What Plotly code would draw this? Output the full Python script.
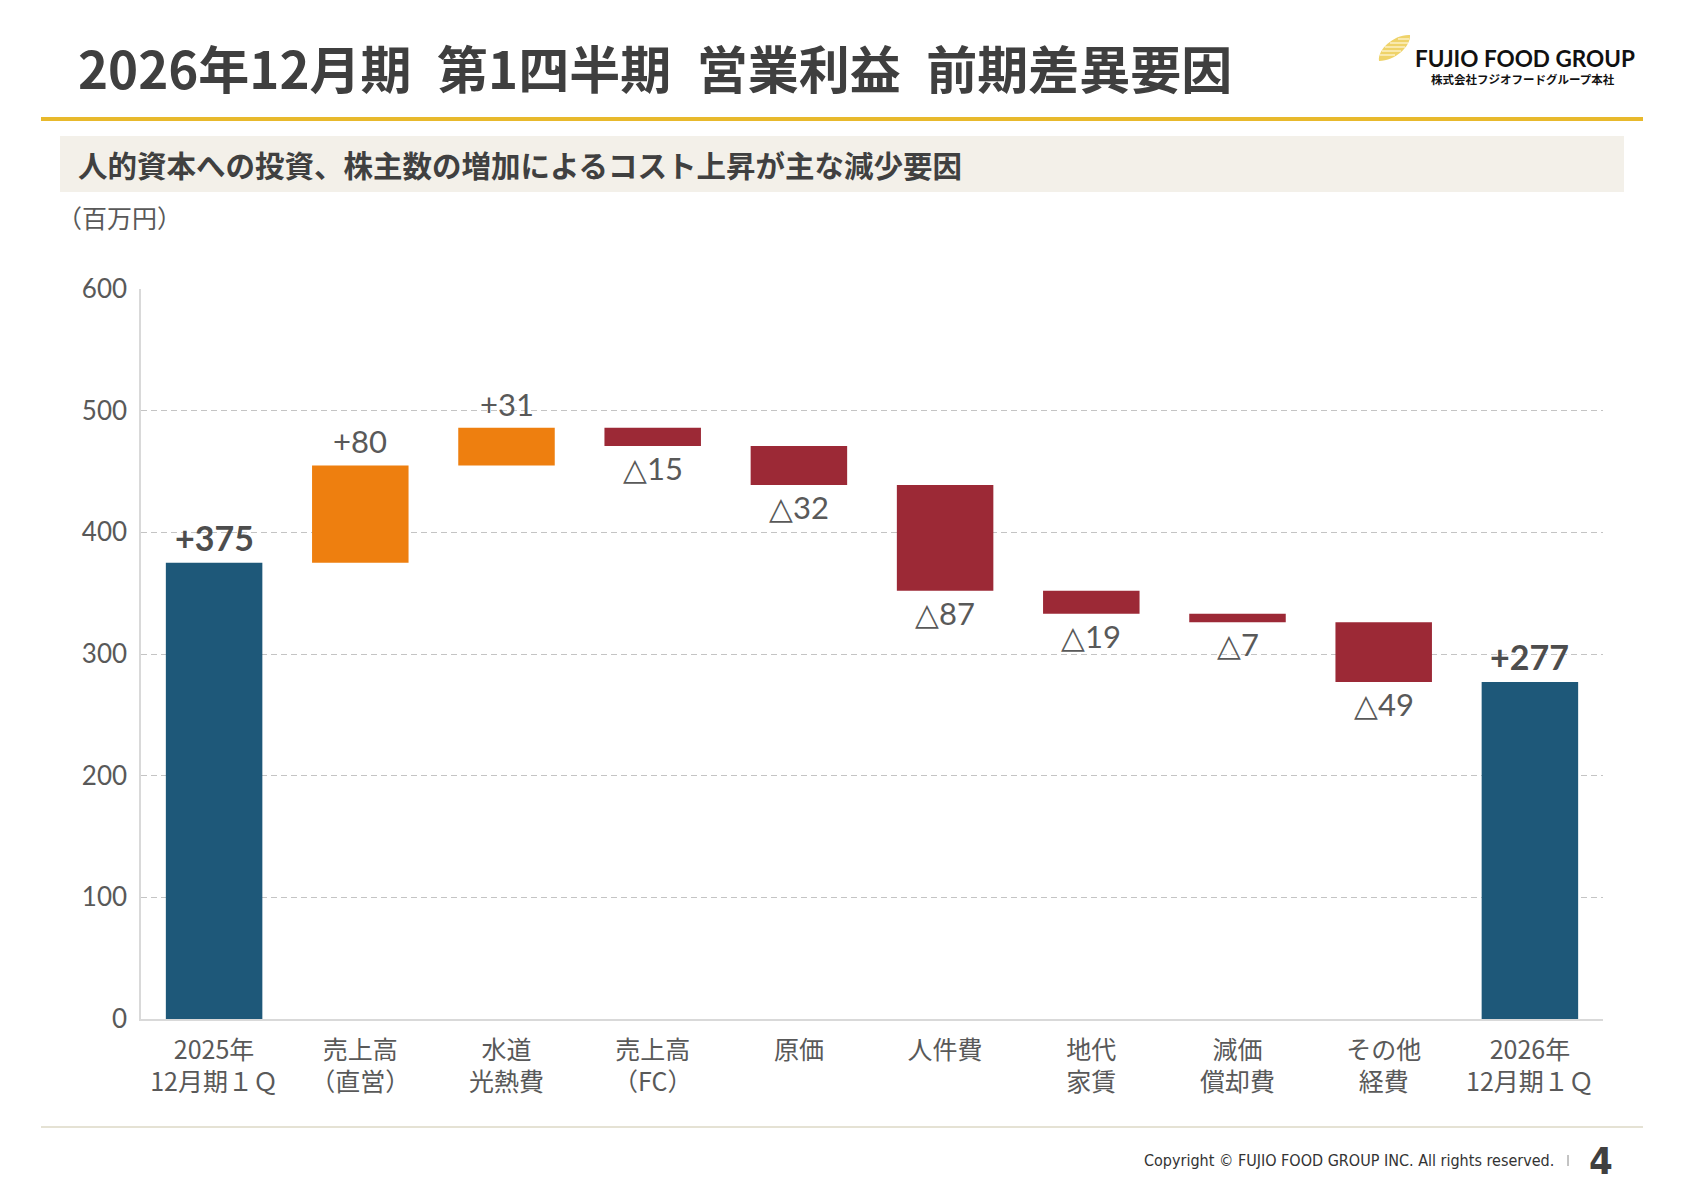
import plotly.graph_objects as go

# ---------------- data ----------------
categories = ["2025年<br>12月期１Ｑ", "売上高<br>（直営）", "水道<br>光熱費", "売上高<br>（FC）", "原価",
              "人件費", "地代<br>家賃", "減価<br>償却費", "その他<br>経費", "2026年<br>12月期１Ｑ"]
start_value = 375
changes = [80, 31, -15, -32, -87, -19, -7, -49]
end_value = 277
y_ticks = [0, 100, 200, 300, 400, 500, 600]

title_text = "2026年12月期\u2002第1四半期\u2002営業利益\u2002前期差異要因"
subtitle_text = "人的資本への投資、株主数の増加によるコスト上昇が主な減少要因"
unit_text = "（百万円）"
copyright_text = "Copyright © FUJIO FOOD GROUP INC. All rights reserved."
page_no = "4"

# ---------------- styles ----------------
BLUE = "#1E5879"
ORANGE = "#EE7F0F"
RED = "#9C2936"
TXT = "#595959"
W, H = 1684, 1190
MT, MB = 20, 20


def X(px):
    return px / W


def Y(py):
    return (H - MB - py) / (H - MT - MB)


# build bars
bases, heights, colors, labels, label_y, anchors, bold = [], [], [], [], [], [], []
bases.append(0); heights.append(start_value); colors.append(BLUE)
labels.append(f"+{start_value}"); label_y.append(start_value); anchors.append("bottom"); bold.append(True)
run = start_value
for c in changes:
    bases.append(run); heights.append(c)
    if c >= 0:
        colors.append(ORANGE); labels.append(f"+{c}"); label_y.append(run + c); anchors.append("bottom")
    else:
        colors.append(RED); labels.append(f"△{-c}"); label_y.append(run + c); anchors.append("top")
    bold.append(False)
    run += c
bases.append(0); heights.append(end_value); colors.append(BLUE)
labels.append(f"+{end_value}"); label_y.append(end_value); anchors.append("bottom"); bold.append(True)

fig = go.Figure()
fig.add_trace(go.Bar(x=categories, y=heights, base=bases, marker=dict(color=colors, line=dict(width=0)),
                     width=0.66, hoverinfo="skip", showlegend=False))

annotations = []
for cat, lab, ly, anc, b in zip(categories, labels, label_y, anchors, bold):
    annotations.append(dict(
        x=cat, y=ly, xref="x", yref="y", text=lab, showarrow=False,
        xanchor="center", yanchor=anc,
        yshift=(3 if anc == "bottom" else -1),
        font=dict(family="Lato, Noto Sans, sans-serif", size=34 if b else 31,
                  color="#4D4D4D" if b else TXT, weight=700 if b else 400)))

# header / footer texts
annotations += [
    dict(x=X(76), y=Y(67), xref="paper", yref="paper", text=title_text, showarrow=False,
         xanchor="left", yanchor="middle",
         font=dict(family="Noto Sans CJK JP", size=51, color="#3F3F3F", weight=700)),
    dict(x=X(76), y=Y(164), xref="paper", yref="paper", text=subtitle_text, showarrow=False,
         xanchor="left", yanchor="middle",
         font=dict(family="Noto Sans CJK JP", size=29.5, color="#404040", weight=700)),
    dict(x=X(55), y=Y(217), xref="paper", yref="paper", text=unit_text, showarrow=False,
         xanchor="left", yanchor="middle",
         font=dict(family="Noto Sans CJK JP", size=25, color=TXT)),
    dict(x=X(1413), y=Y(58), xref="paper", yref="paper", text="FUJIO FOOD GROUP", showarrow=False,
         xanchor="left", yanchor="middle",
         font=dict(family="Lato", size=22.5, color="#111111", weight=700)),
    dict(x=X(1523), y=Y(79), xref="paper", yref="paper", text="株式会社フジオフードグループ本社", showarrow=False,
         xanchor="center", yanchor="middle",
         font=dict(family="Noto Sans CJK JP", size=11.5, color="#111111", weight=700)),
    dict(x=X(1556), y=Y(1160), xref="paper", yref="paper", text=copyright_text, showarrow=False,
         xanchor="right", yanchor="middle",
         font=dict(family="DejaVu Sans Condensed, Liberation Sans Narrow, sans-serif", size=16,
                   color="#333333")),
    dict(x=X(1601), y=Y(1161), xref="paper", yref="paper", text=page_no, showarrow=False,
         xanchor="center", yanchor="middle",
         font=dict(family="DejaVu Sans Condensed, Liberation Sans Narrow, sans-serif", size=38,
                   color="#404040", weight=700)),
]

shapes = [
    # gold rule
    dict(type="rect", xref="paper", yref="paper", x0=X(41), x1=X(1643), y0=Y(121), y1=Y(117),
         fillcolor="#E8B92C", line=dict(width=0), layer="below"),
    # subtitle band
    dict(type="rect", xref="paper", yref="paper", x0=X(60), x1=X(1624), y0=Y(192), y1=Y(136),
         fillcolor="#F3F0E9", line=dict(width=0), layer="below"),
    # footer rule
    dict(type="line", xref="paper", yref="paper", x0=X(41), x1=X(1643), y0=Y(1127), y1=Y(1127),
         line=dict(color="#DCD8C6", width=1.5)),
    # footer separator
    dict(type="line", xref="paper", yref="paper", x0=X(1568), x1=X(1568), y0=Y(1155), y1=Y(1166),
         line=dict(color="#888888", width=1)),
    # logo grain
    dict(type="path", xref="paper", yref="paper",
         path=(f"M {X(1379)},{Y(61)} C {X(1377)},{Y(50)} {X(1394)},{Y(34)} {X(1410)},{Y(35)} "
               f"C {X(1411)},{Y(46)} {X(1395)},{Y(61)} {X(1379)},{Y(61)} Z"),
         fillcolor="#EFD36A", line=dict(width=0)),
]
for yy, xa, xb in [(39, 1398, 1409), (43, 1390, 1408), (47, 1385, 1405), (51, 1382, 1401), (55, 1380, 1395)]:
    shapes.append(dict(type="line", xref="paper", yref="paper", x0=X(xa), x1=X(xb), y0=Y(yy), y1=Y(yy),
                       line=dict(color="#FFF8DC", width=1.2)))

fig.update_layout(
    width=W, height=H, autosize=False,
    margin=dict(l=0, r=0, t=MT, b=MB, autoexpand=False),
    paper_bgcolor="white", plot_bgcolor="white",
    annotations=annotations, shapes=shapes,
    xaxis=dict(domain=[X(141), X(1603)], showline=True, linecolor="#D9D9D9", linewidth=1.5,
               showgrid=False, zeroline=False, ticks="", ticklabelstandoff=8, automargin=False,
               tickfont=dict(family="Noto Sans CJK JP", size=25, color=TXT), fixedrange=True),
    yaxis=dict(domain=[Y(1019), Y(289)], range=[0, 600], tickvals=y_ticks,
               showline=True, linecolor="#D9D9D9", linewidth=1.5,
               showgrid=True, gridcolor="#C4C4C4", gridwidth=1, griddash="6px,4px",
               zeroline=False, ticks="", ticklabelstandoff=7, automargin=False,
               tickfont=dict(family="Lato, Noto Sans, sans-serif", size=26, color=TXT), fixedrange=True),
)

fig.write_html("out.html")
